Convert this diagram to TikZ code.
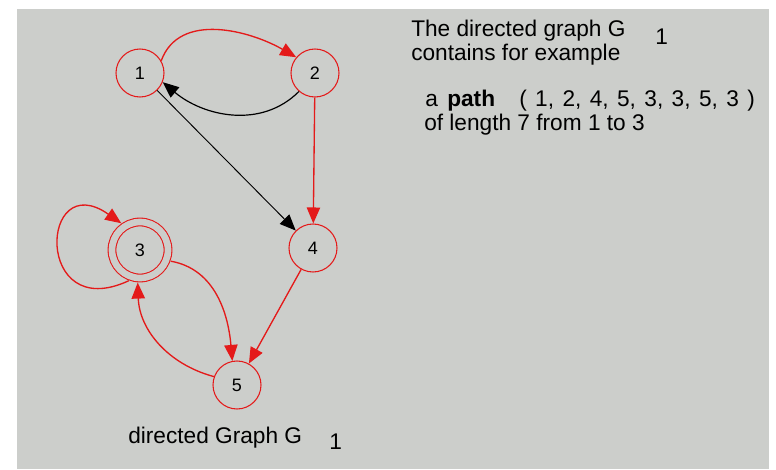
\documentclass[tikz,border=0pt]{standalone}
\usepackage{fontspec}
\setmainfont{Liberation Sans}
\usetikzlibrary{arrows.meta}
\definecolor{panel}{RGB}{204,206,203}
\definecolor{edgered}{RGB}{228,26,26}

\begin{document}
\begin{tikzpicture}[x=0.75pt, y=0.75pt, >={Triangle[length=12pt,width=10pt]},
    vertex/.style={circle, draw=edgered, line width=0.8pt, minimum size=36pt, inner sep=0pt, font=\fontsize{13.5}{15}\selectfont},
    accept/.style={vertex, double=panel, double distance=5pt, minimum size=42pt, outer sep=3.5pt},
    redarc/.style={draw=edgered, line width=1pt, ->},
    blackarc/.style={draw=black, line width=0.9pt, ->},
    txt/.style={anchor=base west, inner sep=0pt, font=\fontsize{17}{19}\selectfont}]
  \useasboundingbox (0,0) rectangle (776,469);
  \fill[panel] (17,0) rectangle (769,460);
  % vertices
  \node[vertex] (v1) at (140,396) {1};
  \node[vertex] (v2) at (315,396) {2};
  \node[accept] (v3) at (140,219) {3};
  \node[vertex] (v4) at (313,221) {4};
  \node[vertex] (v5) at (237,84) {5};
  % edges
  \draw[redarc] (v1.30) to[out=70,in=150] (v2.140);
  \draw[blackarc] (v2.229) to[out=-135,in=-40] (v1.-22);
  \draw[blackarc, line width=0.7pt] (v1) -- (v4);
  \draw[redarc] (v2) -- (v4);
  \draw[redarc] (v4) -- (v5);
  \draw[redarc] (v3.-20) to[out=-10,in=95] (v5.101);
  \draw[redarc] (v5.160) to[out=165,in=-88] (v3.266);
  \draw[redarc] (v3.250) .. controls +(205:105) and +(145:100) .. (v3.125);
  % text
  \node[txt] (title) at (411,432) {The directed graph G};
  \node[txt] (titlesub) at (655,424) {1};
  \node[txt] (contains) at (411,408) {contains for example};
  \node[txt] (a) at (425,363) {a};
  \node[txt, font=\fontsize{17}{19}\selectfont\bfseries] (path) at (447,363) {path};
  \node[txt] (seq) at (519,363) {\spaceskip=6.3pt\relax ( 1, 2, 4, 5, 3, 3, 5, 3 )};
  \node[txt] (length) at (424,339) {of length 7 from 1 to 3};
  \node[txt] (caption) at (128,26) {directed Graph G};
  \node[txt] (captionsub) at (329,20) {1};
\end{tikzpicture}
\end{document}
